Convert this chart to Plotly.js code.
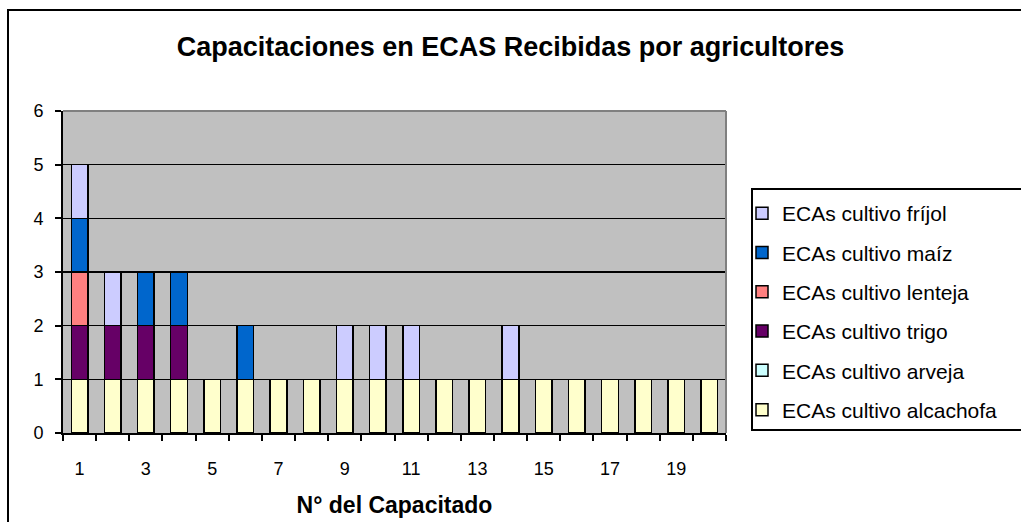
<!DOCTYPE html>
<html>
<head>
<meta charset="utf-8">
<script src="https://cdn.plot.ly/plotly-3.0.1.min.js"></script>
<style>
  html, body { margin: 0; padding: 0; background: #ffffff; }
  #chart { width: 1021px; height: 522px; }
</style>
</head>
<body>
<div id="chart"></div>
<script>
// ---- Data ----
const capacitado = [1,2,3,4,5,6,7,8,9,10,11,12,13,14,15,16,17,18,19,20];
const tickLabels = ["1","3","5","7","9","11","13","15","17","19"];
const tickPositions = [1,3,5,7,9,11,13,15,17,19];

const alcachofa = [1,1,1,1,1,1,1,1,1,1,1,1,1,1,1,1,1,1,1,1];
const arveja    = [0,0,0,0,0,0,0,0,0,0,0,0,0,0,0,0,0,0,0,0];
const trigo     = [1,1,1,1,0,0,0,0,0,0,0,0,0,0,0,0,0,0,0,0];
const lenteja   = [1,0,0,0,0,0,0,0,0,0,0,0,0,0,0,0,0,0,0,0];
const maiz      = [1,0,1,1,0,1,0,0,0,0,0,0,0,0,0,0,0,0,0,0];
const frijol    = [1,1,0,0,0,0,0,0,1,1,1,0,0,1,0,0,0,0,0,0];

const seriesNames = [
  "ECAs cultivo alcachofa",
  "ECAs cultivo arveja",
  "ECAs cultivo trigo",
  "ECAs cultivo lenteja",
  "ECAs cultivo maíz",
  "ECAs cultivo fríjol"
];
const seriesValues = [alcachofa, arveja, trigo, lenteja, maiz, frijol];
const seriesColors = ["#FFFFCC", "#CCFFFF", "#660066", "#FF8080", "#0066CC", "#CCCCFF"];

const FONT = "Liberation Sans, Arial, sans-serif";

const traces = seriesNames.map((name, i) => ({
  type: "bar",
  name: name,
  x: capacitado,
  y: seriesValues[i],
  legendgroup: "g" + i,
  legendrank: seriesNames.length - i,
  marker: { color: seriesColors[i], line: { color: "#000000", width: 1.5 } },
  hoverinfo: "skip"
}));

// plot area in pixels: x 63..726, y 111..433
const L = 63, R = 726, T = 111, B = 433, W = 1021, H = 522;
const px = v => (v - L) / (R - L);
const py = v => (B - v) / (B - T);

const layout = {
  width: W,
  height: H,
  barmode: "stack",
  bargap: 0.5,
  paper_bgcolor: "#ffffff",
  plot_bgcolor: "#C0C0C0",
  margin: { l: L, r: W - R, t: T, b: H - B, pad: 0 },
  font: { family: FONT, color: "#000000", size: 18 },
  title: {
    text: "<b>Capacitaciones en ECAS Recibidas por agricultores</b>",
    font: { family: FONT, size: 27, color: "#000000" },
    x: 0.5, xanchor: "center",
    xref: "container",
    y: 1 - 47 / H, yanchor: "middle", yref: "container"
  },
  xaxis: {
    type: "linear",
    range: [0.5, 20.5],
    tickmode: "array",
    tickvals: tickPositions,
    ticktext: tickLabels,
    ticks: "",
    ticklabelstandoff: 18,
    tickfont: { family: FONT, size: 18, color: "#000000" },
    showgrid: false,
    zeroline: false,
    showline: true,
    linecolor: "#000000",
    linewidth: 2,
    minor: { ticks: "outside", tick0: 0.5, dtick: 1, ticklen: 6, tickwidth: 2, tickcolor: "#000000", showgrid: false },
    fixedrange: true,
    title: {
      text: "<b>N° del Capacitado</b>",
      font: { family: FONT, size: 23, color: "#000000" },
      standoff: 19
    },
    automargin: false
  },
  yaxis: {
    range: [0, 6],
    dtick: 1,
    tick0: 0,
    ticks: "outside",
    ticklen: 6,
    tickwidth: 2,
    tickcolor: "#000000",
    ticklabelstandoff: 8,
    tickfont: { family: FONT, size: 18, color: "#000000" },
    showgrid: true,
    gridcolor: "#000000",
    gridwidth: 1.2,
    zeroline: false,
    showline: true,
    linecolor: "#000000",
    linewidth: 2,
    fixedrange: true,
    automargin: false
  },
  showlegend: true,
  legend: {
    x: px(742), xanchor: "left",
    y: py(193), yanchor: "top",
    xref: "paper", yref: "paper",
    bgcolor: "rgba(0,0,0,0)",
    borderwidth: 0,
    traceorder: "grouped",
    tracegroupgap: 9,
    font: { family: FONT, size: 21, color: "#000000" },
    itemclick: false, itemdoubleclick: false
  },
  shapes: [
    // outer chart-area border
    { type: "rect", xref: "paper", yref: "paper",
      x0: px(8), x1: px(1100), y0: py(600), y1: py(10),
      line: { color: "#000000", width: 2 }, fillcolor: "rgba(0,0,0,0)", layer: "above" },
    // legend box
    { type: "rect", xref: "paper", yref: "paper",
      x0: px(752), x1: px(1100), y0: py(430), y1: py(189),
      line: { color: "#000000", width: 2 }, fillcolor: "rgba(0,0,0,0)", layer: "above" },
    // plot-area grey border (top and right)
    { type: "line", xref: "paper", yref: "paper", x0: 0, x1: 1, y0: 1, y1: 1,
      line: { color: "#808080", width: 2 }, layer: "above" },
    { type: "line", xref: "paper", yref: "paper", x0: 1, x1: 1, y0: 0, y1: 1,
      line: { color: "#808080", width: 2 }, layer: "above" }
  ]
};

Plotly.newPlot("chart", traces, layout, { displayModeBar: false, staticPlot: true });
</script>
</body>
</html>
